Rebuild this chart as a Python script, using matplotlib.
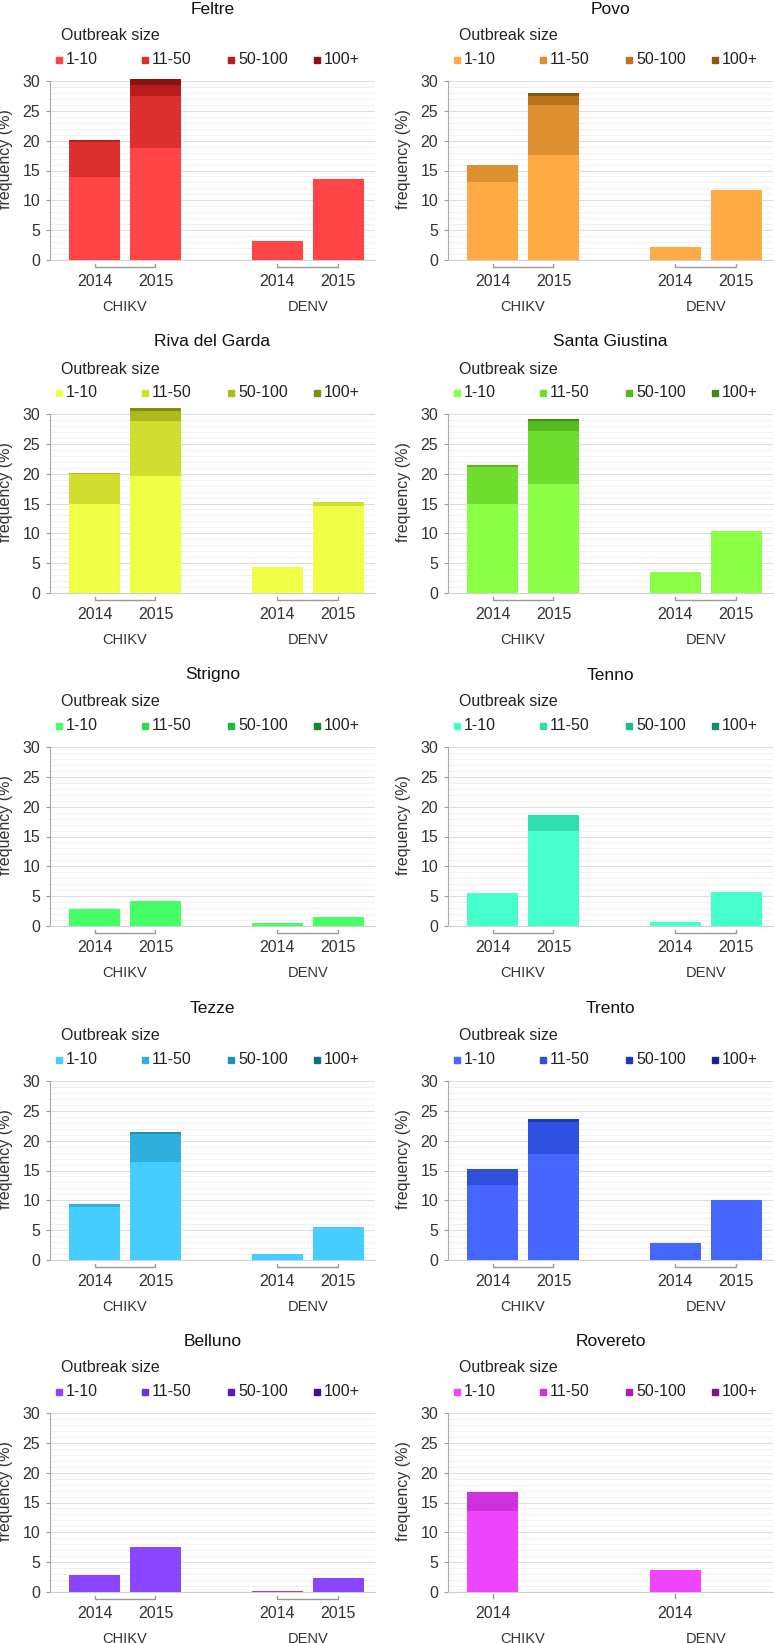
import colorsys
import numpy as np
import matplotlib
matplotlib.use("Agg")
import matplotlib.pyplot as plt
import matplotlib.transforms as mtransforms

plt.rcParams['font.family'] = ['Liberation Sans', 'DejaVu Sans']

sites = ["Feltre", "Povo", "Riva del Garda", "Santa Giustina", "Strigno",
         "Tenno", "Tezze", "Trento", "Belluno", "Rovereto"]
size_classes = ["1-10", "11-50", "50-100", "100+"]
viruses = ["CHIKV", "DENV"]
bar_years = ["2014", "2015", "2014", "2015"]   # CHIKV 2014, CHIKV 2015, DENV 2014, DENV 2015
nan = np.nan

# frequency (%) per site, columns = CHIKV 2014, CHIKV 2015, DENV 2014, DENV 2015
size_1_10 = [
    [13.9, 18.7, 3.2, 13.6],
    [13.1, 17.6, 2.1, 11.8],
    [14.9, 19.6, 4.3, 14.5],
    [15.0, 18.3, 3.5, 10.4],
    [2.9, 4.2, 0.45, 1.45],
    [5.45, 15.9, 0.6, 5.7],
    [8.8, 16.35, 0.95, 5.6],
    [12.6, 17.7, 2.9, 10.1],
    [2.9, 7.55, 0.2, 2.35],
    [13.55, nan, 3.7, nan],
]
size_11_50 = [
    [5.8, 8.8, 0, 0],
    [2.9, 8.4, 0, 0],
    [5.0, 9.25, 0, 0.8],
    [6.05, 8.85, 0, 0],
    [0, 0, 0, 0],
    [0, 2.7, 0, 0],
    [0.65, 4.85, 0, 0],
    [2.65, 5.4, 0, 0],
    [0, 0, 0, 0],
    [3.25, nan, 0, nan],
]
size_50_100 = [
    [0.4, 1.8, 0, 0],
    [0, 1.55, 0, 0],
    [0.15, 1.6, 0, 0],
    [0.4, 1.65, 0, 0],
    [0, 0, 0, 0],
    [0, 0, 0, 0],
    [0, 0.2, 0, 0],
    [0, 0.45, 0, 0],
    [0, 0, 0, 0],
    [0, nan, 0, nan],
]
size_100_plus = [
    [0, 1.0, 0, 0],
    [0, 0.45, 0, 0],
    [0, 0.55, 0, 0],
    [0, 0.3, 0, 0],
    [0, 0, 0, 0],
    [0, 0, 0, 0],
    [0, 0, 0, 0],
    [0, 0, 0, 0],
    [0, 0, 0, 0],
    [0, nan, 0, nan],
]

# styling
site_hues = [0, 33, 65, 98, 131, 164, 196, 229, 262, 295]
shade_sat = [0.73, 0.79, 0.85, 0.87]
shade_val = [1.0, 0.87, 0.73, 0.55]
x_pos = np.array([0, 1, 3, 4])
group_centers = [0.5, 3.5]

W, H = 774, 1643
col_left = [50, 448]
row_top = [81, 414, 747, 1081, 1413]
ax_w, ax_h = 325, 179
tick_col = '#333333'

fig = plt.figure(figsize=(W / 100, H / 100), dpi=100)

for i, site in enumerate(sites):
    r, c = divmod(i, 2)
    ax = fig.add_axes([col_left[c] / W, 1 - (row_top[r] + ax_h) / H, ax_w / W, ax_h / H])
    colors = [colorsys.hsv_to_rgb(site_hues[i] / 360, s, v) for s, v in zip(shade_sat, shade_val)]

    vals = np.array([size_1_10[i], size_11_50[i], size_50_100[i], size_100_plus[i]], dtype=float)
    present = ~np.isnan(vals[0])
    bottom = np.zeros(4)
    for k in range(4):
        ax.bar(x_pos[present], vals[k][present], bottom=bottom[present], width=0.836,
               color=colors[k], linewidth=0, zorder=3, clip_on=False)
        bottom += np.nan_to_num(vals[k])

    ax.set_xlim(-0.73, 4.6)
    ax.set_ylim(0, 30)
    ax.set_yticks(range(0, 31, 5))
    ax.set_yticks(range(0, 31), minor=True)
    ax.grid(which='major', axis='y', color='#dddddd', lw=0.8, zorder=0)
    ax.grid(which='minor', axis='y', color='#eeeeee', lw=0.6, zorder=0)
    ax.set_axisbelow(True)
    ax.tick_params(axis='y', which='major', length=3, color='#999999', pad=4,
                   labelsize=11.5, labelcolor=tick_col)
    ax.tick_params(axis='y', which='minor', length=0)
    for s in ['top', 'right']:
        ax.spines[s].set_visible(False)
    ax.spines['left'].set_color('#aaaaaa')
    ax.spines['bottom'].set_color('#d0d0d0')

    trans = mtransforms.blended_transform_factory(ax.transData, ax.transAxes)
    ax.set_xticks([])
    for x, y, p in zip(x_pos, bar_years, present):
        if p:
            ax.text(x, -25.5 / ax_h, y, transform=trans, ha='center', va='baseline',
                    fontsize=11.5, color=tick_col)

    ax.set_ylabel('frequency (%)', fontsize=11.5, color=tick_col)
    ax.yaxis.set_label_coords(-37 / ax_w, 0.565)

    yb = -7 / ax_h
    for g, gc in enumerate(group_centers):
        xs = x_pos[2 * g:2 * g + 2][present[2 * g:2 * g + 2]]
        if len(xs) == 2:
            ax.plot([xs[0], xs[0], xs[1], xs[1]], [yb + 3 / ax_h, yb, yb, yb + 3 / ax_h],
                    color='#999999', lw=1, transform=trans, clip_on=False)
        else:
            ax.plot([xs[0], xs[0]], [-2 / ax_h, -6 / ax_h], color='#999999', lw=1,
                    transform=trans, clip_on=False)
        ax.text(gc, -51 / ax_h, viruses[g], transform=trans, ha='center', va='baseline',
                fontsize=10.5, color=tick_col)

    ax.text(0.5, 1 + 67.5 / ax_h, site, transform=ax.transAxes, ha='center', va='baseline',
            fontsize=12.5, color='#111111')
    ax.text(11 / ax_w, 1 + 40.5 / ax_h, 'Outbreak size', transform=ax.transAxes,
            ha='left', va='baseline', fontsize=11.5, color='#222222')
    for k, lab in enumerate(size_classes):
        x0 = (9 + 86 * k) / ax_w
        ax.plot([x0], [1 + 21.5 / ax_h], marker='s', ms=4, color=colors[k], lw=0,
                transform=ax.transAxes, clip_on=False)
        ax.text(x0 + 7 / ax_w, 1 + 17 / ax_h, lab, transform=ax.transAxes,
                ha='left', va='baseline', fontsize=11.5, color='#222222')

fig.savefig('out.png', dpi=100)
